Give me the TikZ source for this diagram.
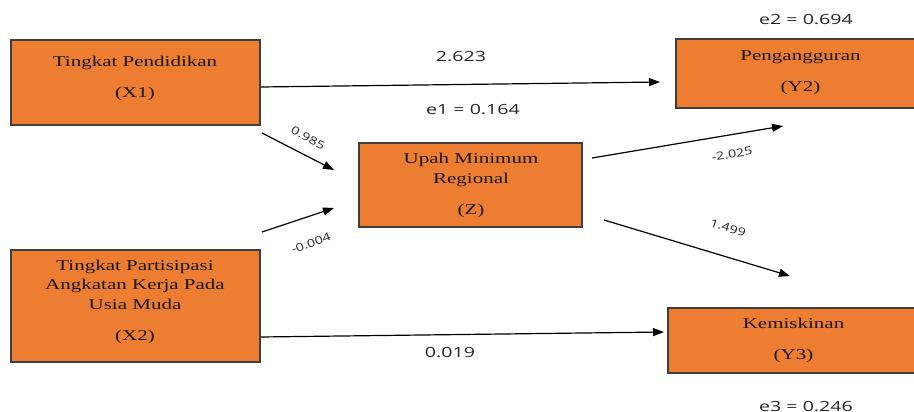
\documentclass[tikz,border=0pt]{standalone}
\usepackage{fontspec}
\setmainfont{Liberation Serif}
\newfontfamily\numfont{Open Sans}
\usetikzlibrary{arrows.meta}
\definecolor{boxfill}{HTML}{ED7D31}
\definecolor{boxline}{HTML}{3F3F3F}
\newcommand{\sx}[1]{\scalebox{1.4}[1]{#1}}
\newcommand{\boxlines}[1]{\sx{\begin{tabular}[t]{@{}c@{}}#1\end{tabular}}}
\begin{document}
\begin{tikzpicture}[x=1pt,y=-1pt,
  box/.style={draw=boxline, fill=boxfill, line width=1.3pt, inner sep=0pt},
  btext/.style={anchor=base, inner sep=0pt, font=\fontsize{15}{19.5}\selectfont, text=black!90},
  num/.style={font=\numfont\fontsize{14}{16}\selectfont, inner sep=0pt, anchor=base, text=black!85},
  coef/.style={font=\numfont\fontsize{11}{12}\selectfont, inner sep=0pt, text=black!85},
  arr/.style={line width=1.2pt, -{Triangle[length=11pt,width=8pt]}}]
\useasboundingbox (0,0) rectangle (914,412);
\clip (0,0) rectangle (914,412);

% boxes
\node[box, minimum width=249pt, minimum height=85pt] (x1) at (135.5,82.5) {};
\node[box, minimum width=249pt, minimum height=112pt] (x2) at (135.5,306) {};
\node[box, minimum width=223pt, minimum height=84pt] (z) at (470.5,185) {};
\node[box, minimum width=254pt, minimum height=69pt] (y2) at (803,73.5) {};
\node[box, minimum width=262pt, minimum height=65pt] (y3) at (799,340.5) {};

% box texts
\node[btext] (x1t) at (135,67) {\boxlines{Tingkat Pendidikan\\[11.5pt](X1)}};
\node[btext] (x2t) at (135,270) {\boxlines{Tingkat Partisipasi\\Angkatan Kerja Pada\\Usia Muda\\[11.5pt](X2)}};
\node[btext] (zt) at (471,164) {\boxlines{Upah Minimum\\Regional\\[11.5pt](Z)}};
\node[btext] (y2t) at (800.5,61) {\boxlines{Pengangguran\\[11.5pt](Y2)}};
\node[btext] (y3t) at (793.5,328) {\boxlines{Kemiskinan\\[11.5pt](Y3)}};

% arrow end points
\coordinate (a1s) at (261,87);   \coordinate (a1e) at (660,82);
\coordinate (a2s) at (262,133);  \coordinate (a2e) at (334,170);
\coordinate (a3s) at (262,232);  \coordinate (a3e) at (334,208);
\coordinate (a4s) at (592,158);  \coordinate (a4e) at (783,126);
\coordinate (a5s) at (604,220);  \coordinate (a5e) at (790,276);
\coordinate (a6s) at (261,337);  \coordinate (a6e) at (664,332);

\draw[arr] (a1s) -- (a1e);
\draw[arr] (a2s) -- (a2e);
\draw[arr] (a3s) -- (a3e);
\draw[arr] (a4s) -- (a4e);
\draw[arr] (a5s) -- (a5e);
\draw[arr] (a6s) -- (a6e);

% coefficients
\node[num] (c1) at (461,62) {\sx{2.623}};
\node[num] (c6) at (450,357) {\sx{0.019}};
\node[coef, rotate=-28] (c2) at (308,138) {\scalebox{1.3}[1]{0.985}};
\node[coef, rotate=20] (c3) at (311,243) {\scalebox{1.3}[1]{-0.004}};
\node[coef, rotate=10] (c4) at (732,154) {\scalebox{1.3}[1]{-2.025}};
\node[coef, rotate=-17] (c5) at (728,228) {\scalebox{1.3}[1]{1.499}};

% errors
\node[num] (e1) at (473,114) {\sx{e1 = 0.164}};
\node[num] (e2) at (806,25) {\sx{e2 = 0.694}};
\node[num] (e3) at (806,411) {\sx{e3 = 0.246}};
\end{tikzpicture}
\end{document}
